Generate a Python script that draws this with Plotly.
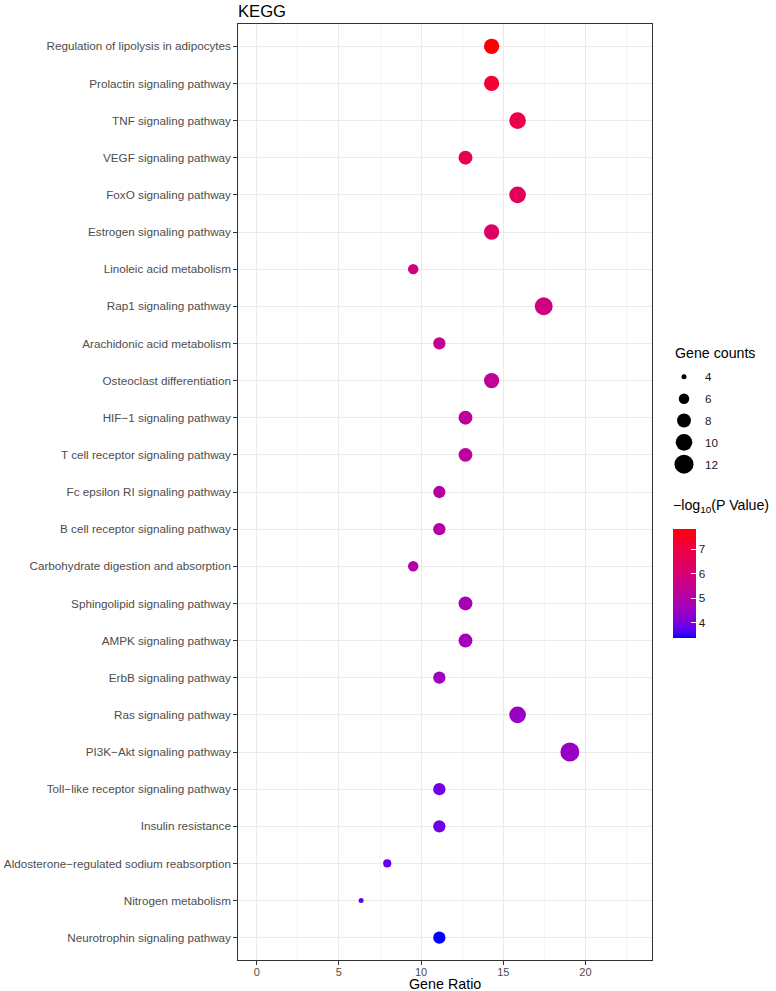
import numpy as np
import plotly.graph_objects as go

# ---------------- data ----------------
pathways = [
    "Regulation of lipolysis in adipocytes",
    "Prolactin signaling pathway",
    "TNF signaling pathway",
    "VEGF signaling pathway",
    "FoxO signaling pathway",
    "Estrogen signaling pathway",
    "Linoleic acid metabolism",
    "Rap1 signaling pathway",
    "Arachidonic acid metabolism",
    "Osteoclast differentiation",
    "HIF\u22121 signaling pathway",
    "T cell receptor signaling pathway",
    "Fc epsilon RI signaling pathway",
    "B cell receptor signaling pathway",
    "Carbohydrate digestion and absorption",
    "Sphingolipid signaling pathway",
    "AMPK signaling pathway",
    "ErbB signaling pathway",
    "Ras signaling pathway",
    "PI3K\u2212Akt signaling pathway",
    "Toll\u2212like receptor signaling pathway",
    "Insulin resistance",
    "Aldosterone\u2212regulated sodium reabsorption",
    "Nitrogen metabolism",
    "Neurotrophin signaling pathway",
]
gene_counts = [9, 9, 10, 8, 10, 9, 6, 11, 7, 9, 8, 8, 7, 7, 6, 8, 8, 7, 10, 12, 7, 7, 5, 4, 7]
gene_ratio = [14.29, 14.29, 15.87, 12.70, 15.87, 14.29, 9.52, 17.46, 11.11, 14.29,
              12.70, 12.70, 11.11, 11.11, 9.52, 12.70, 12.70, 11.11, 15.87, 19.05,
              11.11, 11.11, 7.94, 6.35, 11.11]
neg_log10_p = [7.83, 7.15, 6.85, 6.65, 6.50, 6.30, 5.85, 5.75, 5.45, 5.35,
               5.25, 5.20, 5.10, 5.05, 5.00, 4.75, 4.70, 4.60, 4.50, 4.45,
               3.95, 3.90, 3.80, 3.75, 3.38]
x_ticks = [0, 5, 10, 15, 20]
legend_counts = [4, 6, 8, 10, 12]
cbar_ticks = [4, 5, 6, 7]

# ---------------- styling helpers ----------------
FONT = "Liberation Sans, Arial, sans-serif"
W, H = 776, 991
ML, MT, MB = 238, 24.3, 31
plot_right = 651.7
PW = W - ML
PH = H - MT - MB


def px_x(p):
    return (p - ML) / PW


def px_y(p):
    return (H - MB - p) / PH


# Lab interpolation blue -> red (like ggplot scale_colour_gradient)
def srgb_to_lab(rgb):
    c = np.array(rgb, dtype=float) / 255.0
    c = np.where(c <= 0.04045, c / 12.92, ((c + 0.055) / 1.055) ** 2.4)
    M = np.array([[0.4124564, 0.3575761, 0.1804375],
                  [0.2126729, 0.7151522, 0.0721750],
                  [0.0193339, 0.1191920, 0.9503041]])
    xyz = M @ c
    xyz = xyz / np.array([0.95047, 1.0, 1.08883])
    f = np.where(xyz > 216 / 24389, np.cbrt(xyz), (24389 / 27 * xyz + 16) / 116)
    return np.array([116 * f[1] - 16, 500 * (f[0] - f[1]), 200 * (f[1] - f[2])])


def lab_to_srgb(lab):
    L, a, b = lab
    fy = (L + 16) / 116
    fx = fy + a / 500
    fz = fy - b / 200
    def finv(t):
        return t ** 3 if t ** 3 > 216 / 24389 else (116 * t - 16) / (24389 / 27)
    xyz = np.array([finv(fx), finv(fy), finv(fz)]) * np.array([0.95047, 1.0, 1.08883])
    Minv = np.array([[3.2404542, -1.5371385, -0.4985314],
                     [-0.9692660, 1.8760108, 0.0415560],
                     [0.0556434, -0.2040259, 1.0572252]])
    c = Minv @ xyz
    c = np.clip(c, 0, 1)
    c = np.where(c <= 0.0031308, 12.92 * c, 1.055 * c ** (1 / 2.4) - 0.055)
    c = np.clip(np.round(c * 255), 0, 255).astype(int)
    return "rgb(%d,%d,%d)" % tuple(c)


lab_lo = srgb_to_lab([0, 0, 255])
lab_hi = srgb_to_lab([255, 0, 0])
colorscale = [[t, lab_to_srgb(lab_lo + (lab_hi - lab_lo) * t)] for t in np.linspace(0, 1, 21)]

cmin, cmax = min(neg_log10_p), max(neg_log10_p)
smin, smax = min(gene_counts), max(gene_counts)
DMIN, DMAX = 5.0, 19.0


def diam(c):
    t = (c - smin) / (smax - smin)
    return float(np.sqrt(DMIN ** 2 + (DMAX ** 2 - DMIN ** 2) * t))


fig = go.Figure()

fig.add_trace(go.Scatter(
    x=gene_ratio, y=pathways, mode="markers",
    marker=dict(
        size=[diam(c) for c in gene_counts],
        color=neg_log10_p, colorscale=colorscale, cmin=cmin, cmax=cmax,
        line=dict(width=0), opacity=1,
        colorbar=dict(
            x=px_x(672.7), xanchor="left", xpad=0, ypad=0,
            y=px_y(583.5), yanchor="middle", yref="paper",
            lenmode="pixels", len=109, thicknessmode="pixels", thickness=23,
            outlinewidth=0, tickvals=cbar_ticks, ticks="inside", ticklen=5,
            tickcolor="white", tickwidth=1,
            tickfont=dict(family=FONT, size=11.7, color="#1a1a1a"),
        ),
    ),
    hoverinfo="skip", showlegend=False,
))

# size legend drawn on a small auxiliary axis
legend_pos = list(range(len(legend_counts)))
fig.add_trace(go.Scatter(
    x=[20] * len(legend_counts), y=legend_pos,
    xaxis="x2", yaxis="y2", mode="markers",
    marker=dict(size=[diam(c) for c in legend_counts], color="#000000",
                opacity=1, line=dict(width=0)),
    hoverinfo="skip", showlegend=False,
))

annotations = []
for i, c in zip(legend_pos, legend_counts):
    annotations.append(dict(
        x=38.7, y=i, xref="x2", yref="y2", text=str(c), showarrow=False,
        xanchor="left", yanchor="middle",
        font=dict(family=FONT, size=11.7, color="#1a1a1a"),
    ))
annotations.append(dict(
    x=px_x(672.5), y=px_y(353), xref="paper", yref="paper", text="Gene counts",
    showarrow=False, xanchor="left", yanchor="middle",
    font=dict(family=FONT, size=14.2, color="black"),
))
annotations.append(dict(
    x=px_x(671), y=px_y(506), xref="paper", yref="paper",
    text="\u2212log<sub>10</sub>(P Value)",
    showarrow=False, xanchor="left", yanchor="middle",
    font=dict(family=FONT, size=14.2, color="black"),
))
annotations.append(dict(
    x=px_x((ML + plot_right) / 2), y=0, xref="paper", yref="paper", text="Gene Ratio",
    showarrow=False, xanchor="center", yanchor="middle", yshift=-23.5,
    font=dict(family=FONT, size=14.3, color="black"),
))

fig.update_layout(
    width=W, height=H,
    margin=dict(l=ML, r=0, t=MT, b=MB, pad=0),
    paper_bgcolor="white", plot_bgcolor="white",
    title=dict(text="KEGG", x=0, xref="paper", xanchor="left",
               y=1 - 11 / H, yref="container", yanchor="middle",
               font=dict(family=FONT, size=16.6, color="black")),
    showlegend=False,
    hovermode=False,
    annotations=annotations,
    xaxis=dict(
        domain=[0, px_x(plot_right)],
        range=[-1.14, 24.03], tickvals=x_ticks, ticks="outside", ticklen=3.7,
        tickcolor="#333333", tickwidth=1, ticklabelstandoff=-2,
        tickfont=dict(family=FONT, size=11, color="#4D4D4D"),
        showgrid=True, gridcolor="#EBEBEB", gridwidth=1,
        minor=dict(tick0=2.5, dtick=5, showgrid=True, gridcolor="#EBEBEB", gridwidth=0.55, ticks=""),
        showline=True, mirror=True, linecolor="#333333", linewidth=1,
        zeroline=False, automargin=False, fixedrange=True,
    ),
    yaxis=dict(
        type="category", categoryorder="array", categoryarray=pathways,
        range=[len(pathways) - 0.4, -0.6],
        ticks="outside", ticklen=3.7, tickcolor="#333333", tickwidth=1,
        tickfont=dict(family=FONT, size=11.7, color="#4D4D4D"),
        showgrid=True, gridcolor="#EBEBEB", gridwidth=1,
        showline=True, mirror=True, linecolor="#333333", linewidth=1,
        zeroline=False, automargin=False, fixedrange=True,
    ),
    xaxis2=dict(
        domain=[px_x(664), 1.0], range=[0, 112], anchor="y2",
        visible=False, fixedrange=True,
    ),
    yaxis2=dict(
        domain=[px_y(475.2), px_y(366.15)], anchor="x2",
        range=[len(legend_counts) - 0.5, -0.5],
        visible=False, fixedrange=True,
    ),
)

fig.write_html(
    "out.html",
    config={"displayModeBar": False, "staticPlot": True},
    post_script="document.body.style.margin='0';document.body.style.overflow='hidden';",
)
